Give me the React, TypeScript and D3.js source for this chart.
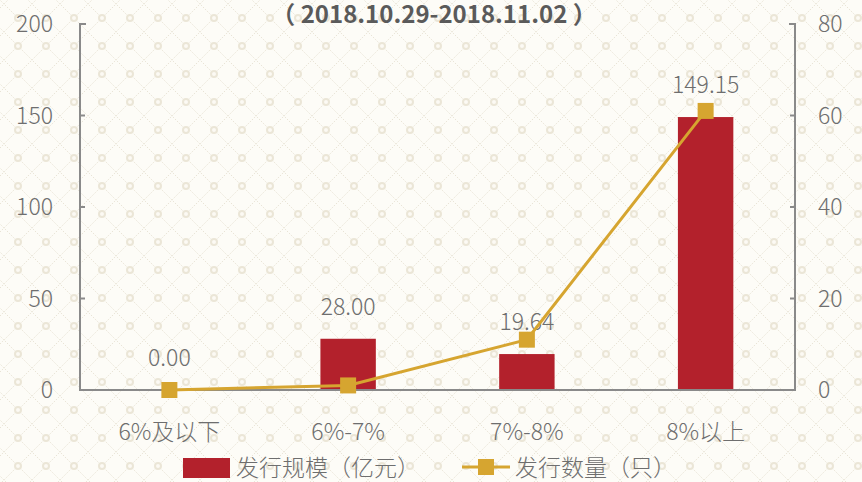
import React, { useEffect, useRef } from 'react';
import * as d3 from 'd3';

const categories = ['6%及以下', '6%-7%', '7%-8%', '8%以上'];
const issueScale = [0, 28.0, 19.64, 149.15]; // 发行规模（亿元）
const issueCount = [0, 1, 11, 61]; // 发行数量（只）
const leftTicks = [0, 50, 100, 150, 200];
const rightTicks = [0, 20, 40, 60, 80];
const title = '（ 2018.10.29-2018.11.02 ）';
const legendNames = ['发行规模（亿元）', '发行数量（只）'];

const App: React.FC = () => {
  const svgRef = useRef<SVGSVGElement>(null);

  useEffect(() => {
    if (!svgRef.current) return;
    const width = 862;
    const height = 482;
    const svg = d3.select(svgRef.current);
    svg.selectAll('*').remove();
    svg.attr('width', width).attr('height', height);

    const font = '"Noto Sans CJK SC", "Noto Sans", sans-serif';
    const barColor = '#b3212c';
    const lineColor = '#d6a530';
    const axisColor = '#8a8a8a';
    const textColor = '#6e6e6e';
    const fs = '23px';

    // background pattern: diagonal dotted lattice with rings
    const defs = svg.append('defs');
    const pat = defs.append('pattern')
      .attr('id', 'bg')
      .attr('patternUnits', 'userSpaceOnUse')
      .attr('width', 28)
      .attr('height', 28)
      .attr('x', 18)
      .attr('y', 18);
    pat.append('rect').attr('width', 28).attr('height', 28).attr('fill', '#fdfcf7');
    pat.append('path')
      .attr('d', 'M0,0 L28,28 M28,0 L0,28')
      .attr('stroke', '#e9e4d6')
      .attr('stroke-width', 1)
      .attr('stroke-dasharray', '1.5,1.5');
    [[0, 0], [28, 0], [0, 28], [28, 28]].forEach(([cx, cy]) => {
      pat.append('circle')
        .attr('cx', cx).attr('cy', cy).attr('r', 3)
        .attr('fill', '#fcfaf4')
        .attr('stroke', '#ebe6d7')
        .attr('stroke-width', 2);
    });
    svg.append('rect').attr('width', width).attr('height', height).attr('fill', 'url(#bg)');

    const left = 80;
    const right = 795;
    const top = 24;
    const bottom = 390;

    const x = d3.scaleBand<string>().domain(categories).range([left, right]).paddingInner(0.69).paddingOuter(0.345);
    const yL = d3.scaleLinear().domain([0, 200]).range([bottom, top]);
    const yR = d3.scaleLinear().domain([0, 80]).range([bottom, top]);

    // title
    svg.append('text')
      .attr('x', 434)
      .attr('y', 23)
      .attr('text-anchor', 'middle')
      .style('font-family', font)
      .style('font-size', '24px')
      .style('font-weight', 'bold')
      .style('fill', '#5a5a5a')
      .text(title);

    // bars
    svg.selectAll('.bar')
      .data(issueScale)
      .enter().append('rect')
      .attr('class', 'bar')
      .attr('x', (_, i) => x(categories[i]) as number)
      .attr('width', x.bandwidth())
      .attr('y', d => yL(d))
      .attr('height', d => bottom - yL(d))
      .attr('fill', barColor);

    // bar labels
    svg.selectAll('.bar-label')
      .data(issueScale)
      .enter().append('text')
      .attr('class', 'bar-label')
      .attr('x', (_, i) => (x(categories[i]) as number) + x.bandwidth() / 2)
      .attr('y', d => yL(d) - 32)
      .attr('dy', '0.35em')
      .attr('text-anchor', 'middle')
      .style('font-family', font)
      .style('font-size', fs)
      .style('font-weight', 300)
      .style('fill', textColor)
      .text(d => d.toFixed(2));

    // axes
    const axisG = svg.append('g');
    axisG.append('path')
      .attr('d', `M${left + 6},${top} H${left} V${bottom} H${right} V${top} H${right - 6}`)
      .attr('fill', 'none')
      .attr('stroke', axisColor)
      .attr('stroke-width', 2);

    leftTicks.forEach(t => {
      axisG.append('line')
        .attr('x1', left).attr('x2', left + 5)
        .attr('y1', yL(t)).attr('y2', yL(t))
        .attr('stroke', axisColor).attr('stroke-width', 2);
      axisG.append('text')
        .attr('x', 53)
        .attr('y', yL(t))
        .attr('dy', '0.35em')
        .attr('text-anchor', 'end')
        .style('font-family', font)
        .style('font-size', fs)
        .style('font-weight', 300)
        .style('fill', textColor)
        .text(t);
    });

    rightTicks.forEach(t => {
      axisG.append('line')
        .attr('x1', right - 5).attr('x2', right)
        .attr('y1', yR(t)).attr('y2', yR(t))
        .attr('stroke', axisColor).attr('stroke-width', 2);
      axisG.append('text')
        .attr('x', 818)
        .attr('y', yR(t))
        .attr('dy', '0.35em')
        .attr('text-anchor', 'start')
        .style('font-family', font)
        .style('font-size', fs)
        .style('font-weight', 300)
        .style('fill', textColor)
        .text(t);
    });

    // category labels
    svg.selectAll('.cat')
      .data(categories)
      .enter().append('text')
      .attr('class', 'cat')
      .attr('x', d => (x(d) as number) + x.bandwidth() / 2)
      .attr('y', 432)
      .attr('dy', '0.35em')
      .attr('text-anchor', 'middle')
      .style('font-family', font)
      .style('font-size', fs)
      .style('font-weight', 300)
      .style('fill', textColor)
      .text(d => d);

    // line
    const line = d3.line<number>()
      .x((_, i) => (x(categories[i]) as number) + x.bandwidth() / 2)
      .y(d => yR(d));
    svg.append('path')
      .datum(issueCount)
      .attr('d', line)
      .attr('fill', 'none')
      .attr('stroke', lineColor)
      .attr('stroke-width', 3);

    svg.selectAll('.marker')
      .data(issueCount)
      .enter().append('rect')
      .attr('class', 'marker')
      .attr('x', (_, i) => (x(categories[i]) as number) + x.bandwidth() / 2 - 8)
      .attr('y', d => yR(d) - 8)
      .attr('width', 16)
      .attr('height', 16)
      .attr('fill', lineColor);

    // legend
    const lg = svg.append('g');
    lg.append('rect')
      .attr('x', 183).attr('y', 458).attr('width', 47).attr('height', 20)
      .attr('fill', barColor);
    lg.append('text')
      .attr('x', 236).attr('y', 468).attr('dy', '0.35em')
      .style('font-family', font).style('font-size', fs).style('font-weight', 300)
      .style('fill', textColor)
      .text(legendNames[0]);
    lg.append('line')
      .attr('x1', 462).attr('x2', 510).attr('y1', 467).attr('y2', 467)
      .attr('stroke', lineColor).attr('stroke-width', 3);
    lg.append('rect')
      .attr('x', 478).attr('y', 459).attr('width', 16).attr('height', 16)
      .attr('fill', lineColor);
    lg.append('text')
      .attr('x', 515).attr('y', 468).attr('dy', '0.35em')
      .style('font-family', font).style('font-size', fs).style('font-weight', 300)
      .style('fill', textColor)
      .text(legendNames[1]);
  }, []);

  return (
    <div style={{ position: 'absolute', left: 0, top: 0, width: 862, height: 482 }}>
      <svg ref={svgRef} style={{ display: 'block' }}></svg>
    </div>
  );
};

export default App;
